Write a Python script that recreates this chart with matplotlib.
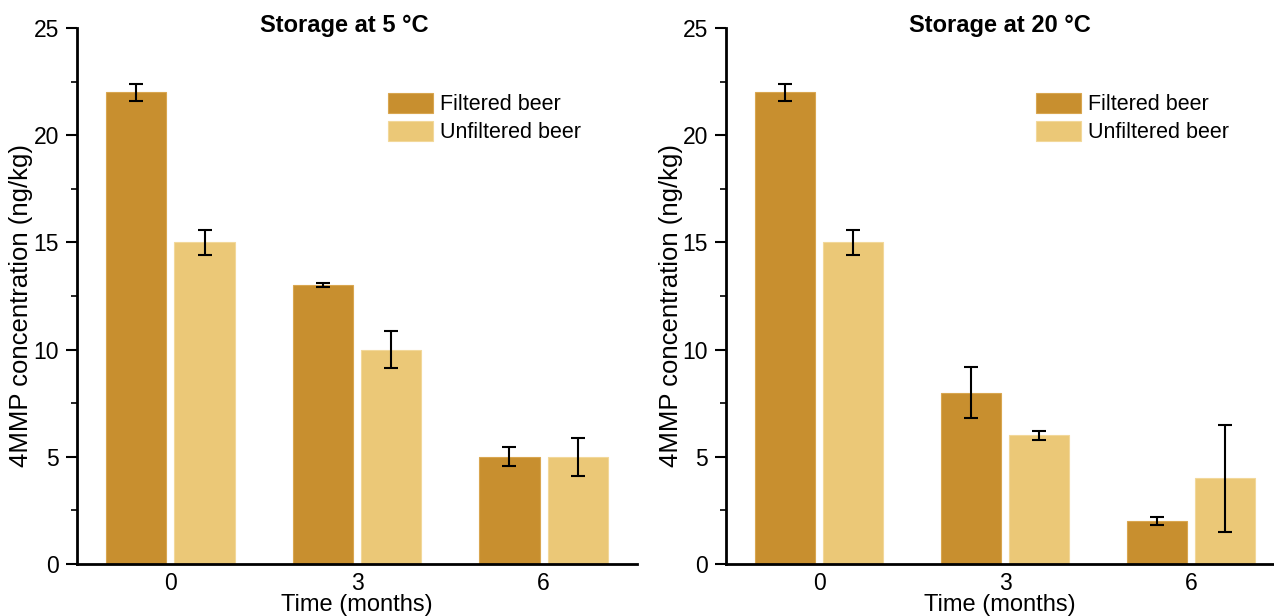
import numpy as np
import matplotlib.pyplot as plt
from matplotlib.ticker import MultipleLocator

plt.rcParams['font.family'] = ['Liberation Sans', 'DejaVu Sans']

# Data
months = [0, 3, 6]
month_labels = ['0', '3', '6']
series_names = ['Filtered beer', 'Unfiltered beer']
titles = ['Storage at 5 °C', 'Storage at 20 °C']

filtered_5 = [22, 13, 5]
filtered_5_err = [0.4, 0.1, 0.45]
unfiltered_5 = [15, 10, 5]
unfiltered_5_err = [0.6, 0.85, 0.9]

filtered_20 = [22, 8, 2]
filtered_20_err = [0.4, 1.2, 0.2]
unfiltered_20 = [15, 6, 4]
unfiltered_20_err = [0.6, 0.2, 2.5]

col_filtered = '#C88F2F'
col_unfiltered = '#EBC877'

fig = plt.figure(figsize=(12.74, 6.16), dpi=100)
ax1 = fig.add_axes([0.0604, 0.0844, 0.4396, 0.870])
ax2 = fig.add_axes([0.5699, 0.0844, 0.4301, 0.870])

# axes, filtered, err, unfiltered, err, xlim, title x (data units)
panels = [
    (ax1, filtered_5, filtered_5_err, unfiltered_5, unfiltered_5_err, (-1.5, 7.5), 2.8, titles[0]),
    (ax2, filtered_20, filtered_20_err, unfiltered_20, unfiltered_20_err, (-1.5, 7.34), 2.92, titles[1]),
]

x = np.array(months, dtype=float)
w = 0.97
off = 0.55

for ax, f, fe, u, ue, xl, tx, title in panels:
    ax.bar(x - off, f, width=w, color=col_filtered, edgecolor='#D9A650', linewidth=0.8,
           label=series_names[0], zorder=2)
    ax.bar(x + off, u, width=w, color=col_unfiltered, edgecolor='#F2D89A', linewidth=0.8,
           label=series_names[1], zorder=2)
    ax.errorbar(x - off, f, yerr=fe, fmt='none', ecolor='black', elinewidth=1.5,
                capsize=4.7, capthick=1.5, zorder=3)
    ax.errorbar(x + off, u, yerr=ue, fmt='none', ecolor='black', elinewidth=1.5,
                capsize=4.7, capthick=1.5, zorder=3)

    ax.set_xlim(*xl)
    ax.set_ylim(0, 25)
    ax.set_xticks(months)
    ax.set_xticklabels(month_labels)
    ax.yaxis.set_major_locator(MultipleLocator(5))
    ax.yaxis.set_minor_locator(MultipleLocator(2.5))

    for s in ['top', 'right']:
        ax.spines[s].set_visible(False)
    for s in ['left', 'bottom']:
        ax.spines[s].set_linewidth(2)
    ax.tick_params(axis='y', which='major', length=8, width=1.5, labelsize=16.5, pad=5)
    ax.tick_params(axis='y', which='minor', length=4.3, width=1.2)
    ax.tick_params(axis='x', length=0, labelsize=16.5, pad=6)

    ax.set_xlabel('Time (months)', fontsize=17, labelpad=-1)
    ax.set_ylabel('4MMP concentration (ng/kg)', fontsize=18.5, labelpad=0)
    ax.yaxis.set_label_coords(-0.079, 0.482)

    ax.legend(loc='upper left', bbox_to_anchor=(3.5, 21.95), bbox_transform=ax.transData,
              frameon=False, fontsize=15.5, handlelength=2.1, handleheight=1.0,
              handletextpad=0.33, labelspacing=0.27, borderaxespad=0, borderpad=0)

    ax.text(tx, 25.1, title, ha='center', va='center', fontsize=17, fontweight='bold')

fig.savefig('out.png', dpi=100)
